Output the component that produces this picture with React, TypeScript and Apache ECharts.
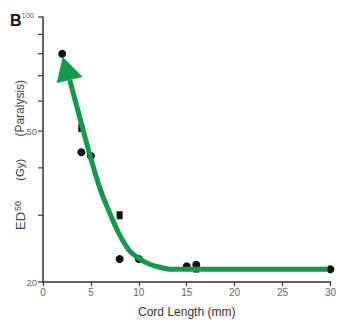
import React, { useEffect, useRef } from "react";
import * as echarts from "echarts";

const yTickValues = [20, 30, 40, 50, 60, 70, 80, 90, 100];
const yLabelValues = [20, 50, 100];

const circleX = [2, 4, 5, 8, 10, 15, 16, 30];
const circleY = [80, 44, 43, 23, 23, 22, 22.2, 21.6];
const squareX = [4, 8, 16];
const squareY = [51, 30, 21.7];

const curveX = [2.79, 3.35, 3.91, 4.89, 6.0, 6.83, 7.91, 8.96, 9.99, 11.07, 12.1, 13.45, 16.2, 29.7];
const curveY = [68.2, 60.4, 53.5, 43.3, 35.0, 31.0, 26.9, 24.3, 23.1, 22.3, 21.9, 21.6, 21.6, 21.6];

const arrowX = [2.79];
const arrowY = [72.5];

const lg = (v: number) => Math.log10(v);
const FONT = "Liberation Sans";

export default function App() {
  const ref = useRef<HTMLDivElement>(null);
  useEffect(() => {
    if (!ref.current) return;
    const chart = echarts.init(ref.current, undefined, { renderer: "svg" });
    const green = "#12994a";
    const tc = "#444";
    chart.setOption({
      animation: false,
      backgroundColor: "#ffffff",
      grid: { left: 43, right: 6, top: 17, bottom: 42, containLabel: false },
      graphic: [
        {
          type: "text",
          left: 10,
          top: 12,
          style: { text: "B", font: `bold 16px ${FONT}`, fill: "#111" },
        },
        {
          type: "text",
          x: 20,
          y: 230,
          rotation: Math.PI / 2,
          style: {
            text: "{e|ED}{s|50}{g|(Gy)}{p|(Paralysis)}",
            textAlign: "left",
            textVerticalAlign: "middle",
            fill: tc,
            font: `12px ${FONT}`,
            rich: {
              e: { fontFamily: FONT, fontSize: 13, fill: tc, color: tc, padding: [0, 1, 0, 0] },
              s: { fontFamily: FONT, fontSize: 9, fill: tc, color: tc, verticalAlign: "top" },
              g: { fontFamily: FONT, fontSize: 11.5, fill: tc, color: tc, padding: [0, 0, 0, 20] },
              p: { fontFamily: FONT, fontSize: 12, fill: tc, color: tc, padding: [0, 0, 0, 22] },
            },
          },
        },
      ],
      xAxis: {
        type: "value",
        min: 0,
        max: 30,
        interval: 5,
        name: "Cord Length (mm)",
        nameLocation: "middle",
        nameGap: 24,
        nameTextStyle: { fontFamily: FONT, fontSize: 12, color: "#333" },
        axisLine: { lineStyle: { color: "#333", width: 1.5 } },
        axisTick: { show: true, length: 4, lineStyle: { color: "#333", width: 1.2 } },
        axisLabel: { fontFamily: FONT, fontSize: 10, color: "#666", margin: 5 },
        splitLine: { show: false },
      },
      yAxis: {
        type: "value",
        min: lg(20),
        max: 2,
        axisLine: { show: true, lineStyle: { color: "#333", width: 1.5 } },
        axisTick: { show: false },
        axisLabel: {
          fontFamily: FONT,
          fontSize: 9.5,
          color: "#666",
          margin: 6,
          customValues: yLabelValues.map(lg),
          formatter: (v: number) => {
            const n = Math.round(Math.pow(10, v));
            return n === 100 ? "{t|100}" : String(n);
          },
          rich: {
            t: { fontFamily: FONT, fontSize: 7.5, color: "#666", padding: [0, 3, 3, 0] },
          },
        },
        splitLine: { show: false },
      },
      series: [
        {
          type: "custom",
          clip: false,
          silent: true,
          data: yTickValues.map((v) => [0, lg(v)]),
          renderItem: (_params: any, api: any) => {
            const p = api.coord([api.value(0), api.value(1)]);
            return {
              type: "line",
              shape: { x1: p[0] - 5, y1: p[1], x2: p[0], y2: p[1] },
              style: { stroke: "#333", lineWidth: 1.2 },
            };
          },
          z: 1,
        },
        {
          type: "scatter",
          data: circleX.map((x, i) => [x, lg(circleY[i])]),
          symbol: "circle",
          symbolSize: 8,
          itemStyle: { color: "#111", opacity: 1 },
          z: 2,
        },
        {
          type: "scatter",
          data: squareX.map((x, i) => [x, lg(squareY[i])]),
          symbol: "rect",
          symbolSize: [6, 8],
          itemStyle: { color: "#111", opacity: 1 },
          z: 2,
        },
        {
          type: "line",
          data: curveX.map((x, i) => [x, lg(curveY[i])]),
          smooth: 0.3,
          showSymbol: false,
          symbol: "none",
          lineStyle: { color: green, width: 5, cap: "butt" },
          z: 4,
        },
        {
          type: "scatter",
          data: arrowX.map((x, i) => [x, lg(arrowY[i])]),
          symbol: "path://M63,57 L57,83 L83,77 Z",
          symbolSize: [26, 26],
          itemStyle: { color: green, opacity: 1 },
          z: 5,
        },
      ],
    });
    return () => chart.dispose();
  }, []);
  return (
    <div
      ref={ref}
      style={{ position: "fixed", left: 0, top: 0, width: 339, height: 324, background: "#fff" }}
    />
  );
}
